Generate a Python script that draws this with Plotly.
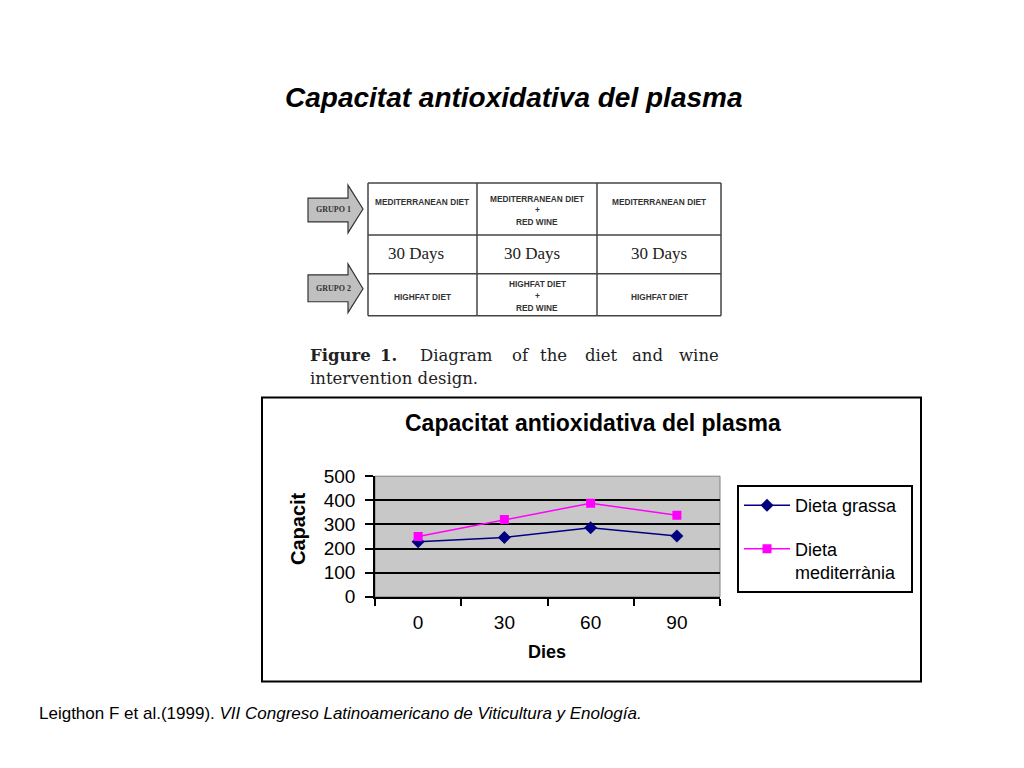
import plotly.graph_objects as go

# ---------------- data ----------------
dias = ["0", "30", "60", "90"]
dieta_grassa = [228, 246, 286, 252]
dieta_mediterrania = [250, 320, 388, 338]
y_ticks = [0, 100, 200, 300, 400, 500]

slide_title = "Capacitat antioxidativa del plasma"
chart_title = "Capacitat antioxidativa del plasma"
series_names = ["Dieta grassa", "Dieta<br>mediterrània&nbsp;&nbsp;"]

# ---------------- helpers (page pixel -> paper fraction) ----------------
W, H = 1024, 768
OX, OY, SY = 8.0, 17.4, 749.3   # observed page offset / effective height

def px(x):
    return (x - OX) / W

def py(y):
    return 1 - (y - OY) / SY

SANS = "Liberation Sans, Arial, sans-serif"
SERIF_T = "Liberation Serif, Times New Roman, serif"
SERIF_W = "DejaVu Serif, serif"

fig = go.Figure()
fig.add_trace(go.Scatter(
    x=dias, y=dieta_grassa, name=series_names[0], mode="lines+markers",
    line=dict(color="#000080", width=1.5),
    marker=dict(symbol="diamond", size=10, color="#000080"),
    legendgroup="a"))
fig.add_trace(go.Scatter(
    x=dias, y=dieta_mediterrania, name=series_names[1], mode="lines+markers",
    line=dict(color="#FF00FF", width=1.5),
    marker=dict(symbol="square", size=9, color="#FF00FF"),
    legendgroup="b"))

shapes = []
annotations = []

# chart frame
shapes.append(dict(type="rect", xref="paper", yref="paper",
                   x0=px(262), x1=px(921), y0=py(683), y1=py(398),
                   line=dict(color="black", width=2), fillcolor="rgba(0,0,0,0)", layer="below"))
# plot area outline
shapes.append(dict(type="rect", xref="x domain", yref="y domain", x0=0, x1=1, y0=0, y1=1,
                   line=dict(color="#808080", width=1), fillcolor="rgba(0,0,0,0)", layer="below"))

# ---------- diagram (table) ----------
tcol = "#444444"
cols = [368, 477, 597, 721]
rows = [183, 235, 274, 316]
for cx in cols:
    shapes.append(dict(type="line", xref="paper", yref="paper",
                       x0=px(cx), x1=px(cx), y0=py(rows[0]), y1=py(rows[-1]),
                       line=dict(color=tcol, width=1.5)))
for ry in rows:
    shapes.append(dict(type="line", xref="paper", yref="paper",
                       x0=px(cols[0]), x1=px(cols[-1]), y0=py(ry), y1=py(ry),
                       line=dict(color=tcol, width=1.5)))

def arrow(body_t, body_b, head_t, head_b, tip_y):
    pts = [(308, body_t), (348, body_t), (348, head_t), (363, tip_y),
           (348, head_b), (348, body_b), (308, body_b)]
    path = "M " + " L ".join(f"{px(a):.5f},{py(b):.5f}" for a, b in pts) + " Z"
    return dict(type="path", xref="paper", yref="paper", path=path,
                fillcolor="#C0C0C0", line=dict(color="#333333", width=1.2))

shapes.append(arrow(198, 222, 185, 233, 209))
shapes.append(arrow(275, 302, 264, 313, 289))

def txt(x, y, s, size, family=SANS, color="black", xanchor="center", angle=0):
    annotations.append(dict(x=px(x), y=py(y), xref="paper", yref="paper", text=s,
                            showarrow=False, xanchor=xanchor, yanchor="middle",
                            textangle=angle,
                            font=dict(size=size, family=family, color=color)))

txt(333, 209, "<b>GRUPO 1</b>", 8, SERIF_T, "#333")
txt(333, 289, "<b>GRUPO 2</b>", 8, SERIF_T, "#333")

dcol = "#333333"
ds = 8.3
txt(422, 202, "<b>MEDITERRANEAN DIET</b>", ds, SANS, dcol)
txt(537, 199, "<b>MEDITERRANEAN DIET</b>", ds, SANS, dcol)
txt(537, 210, "<b>+</b>", ds, SANS, dcol)
txt(537, 222, "<b>RED WINE</b>", ds, SANS, dcol)
txt(659, 202, "<b>MEDITERRANEAN DIET</b>", ds, SANS, dcol)

txt(416, 254, "30 Days", 17, SERIF_T, "#222")
txt(532, 254, "30 Days", 17, SERIF_T, "#222")
txt(659, 254, "30 Days", 17, SERIF_T, "#222")

txt(422, 297, "<b>HIGHFAT DIET</b>", ds, SANS, dcol)
txt(537, 284, "<b>HIGHFAT DIET</b>", ds, SANS, dcol)
txt(537, 296, "<b>+</b>", ds, SANS, dcol)
txt(537, 308, "<b>RED WINE</b>", ds, SANS, dcol)
txt(659, 297, "<b>HIGHFAT DIET</b>", ds, SANS, dcol)

# caption (justified first line)
cap_words = [("<b>Figure</b>", 308), ("<b>1.</b>", 378), ("Diagram", 418), ("of", 510),
             ("the", 538), ("diet", 583), ("and", 630), ("wine", 677)]
for w, x0 in cap_words:
    txt(x0, 356, w, 16.5, SERIF_W, "#222", xanchor="left")
txt(308, 379, "intervention design.", 16.5, SERIF_W, "#222", xanchor="left")

# ---------- titles / text ----------
txt(514, 97, f"<b><i>{slide_title}</i></b>", 28, SANS)
txt(593, 424, f"<b>{chart_title}</b>", 23, SANS)
txt(298, 530, "<b>Capacit</b>", 20, SANS, angle=-90)
txt(547, 653, "<b>Dies</b>", 18, SANS)
txt(37, 715, "Leigthon F et al.(1999). <i>VII Congreso Latinoamericano de Viticultura y Enología.</i>",
    17, SANS, xanchor="left")

fig.update_layout(
    width=W, height=H, margin=dict(l=0, r=0, t=0, b=0),
    paper_bgcolor="white", plot_bgcolor="#C8C8C8",
    font=dict(family=SANS, size=16, color="black"),
    shapes=shapes, annotations=annotations,
    showlegend=True,
    legend=dict(x=px(737), y=py(486), xanchor="left", yanchor="top",
                bordercolor="black", borderwidth=2, bgcolor="white",
                font=dict(size=18, family=SANS), tracegroupgap=17,
                traceorder="grouped", valign="top", itemwidth=46),
    xaxis=dict(domain=[px(375), px(720)], type="category", range=[-0.5, 3.5],
               showline=True, linecolor="black", linewidth=1.5,
               ticks="outside", tickson="boundaries", ticklen=7, tickcolor="black",
               tickwidth=1.5, showgrid=False, zeroline=False,
               tickfont=dict(size=19), ticklabelstandoff=8, fixedrange=True),
    yaxis=dict(domain=[py(598), py(477)], range=[0, 500], tickvals=y_ticks,
               showline=True, linecolor="black", linewidth=1.5,
               ticks="outside", ticklen=8, tickcolor="black", tickwidth=1.5,
               showgrid=True, gridcolor="black", gridwidth=1.5, zeroline=False,
               tickfont=dict(size=19), ticklabelstandoff=6, fixedrange=True),
)

fig.write_html("out.html")
